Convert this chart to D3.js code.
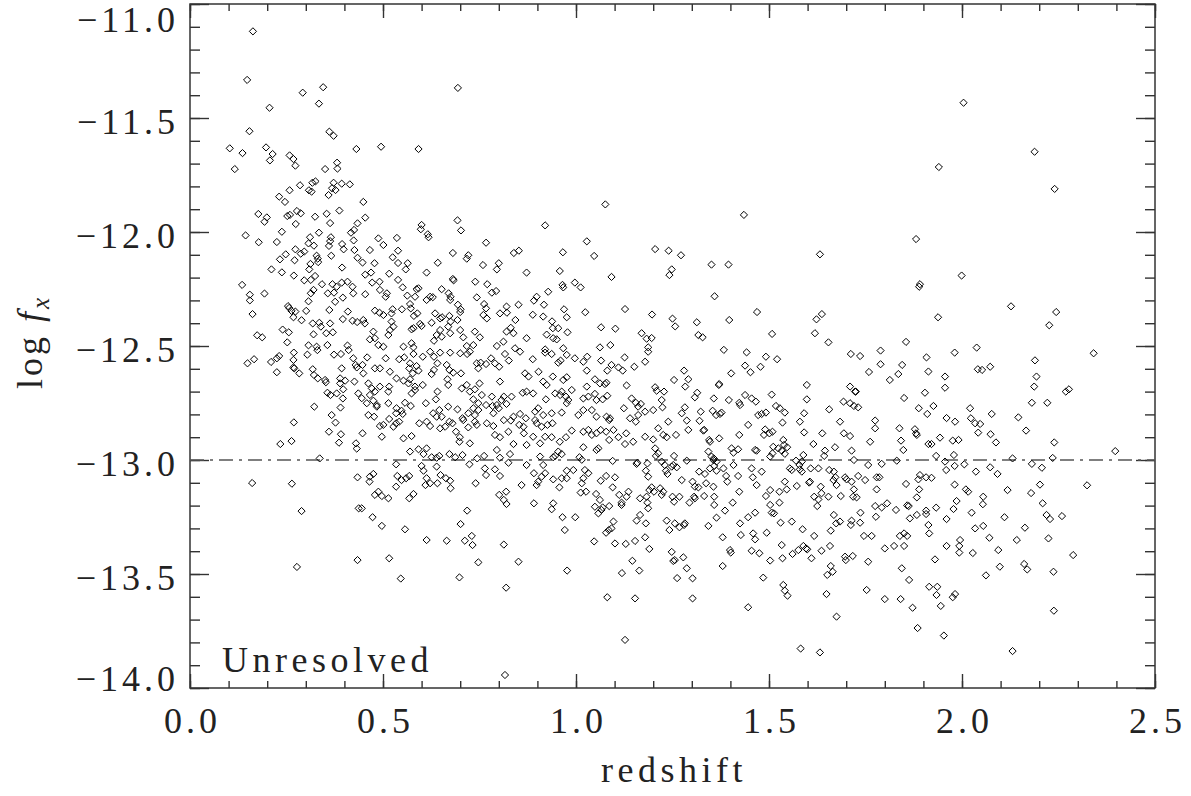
<!DOCTYPE html>
<html><head><meta charset="utf-8">
<script src="https://cdn.jsdelivr.net/npm/d3@7"></script>
<style>
html,body{margin:0;padding:0;background:#fff;}
svg{display:block;background:#fff;}
text{font-family:"Liberation Serif","DejaVu Serif",serif;fill:#222;}
</style></head><body>
<svg id="chart" width="1191" height="796"></svg>
<script>
const xTickValues = [0, 0.5, 1.0, 1.5, 2.0, 2.5];
const xTickLabels = ["0.0", "0.5", "1.0", "1.5", "2.0", "2.5"];
const yTickValues = [-14, -13.5, -13, -12.5, -12, -11.5, -11];
const yTickLabels = ["\u221214.0", "\u221213.5", "\u221213.0", "\u221212.5", "\u221212.0", "\u221211.5", "\u221211.0"];
const xTitle = "redshift";
const panelLabel = "Unresolved";
const referenceFlux = -13.0;

// [redshift, log f_x]
const sources = [
[0.163,-11.12],[0.148,-11.333],[0.345,-11.365],[0.292,-11.389],[0.334,-11.437],[0.206,-11.455],[0.154,-11.558],[0.361,-11.560],[0.372,-11.578],[0.103,-11.633],[0.136,-11.654],[0.197,-11.629],[0.214,-11.658],[0.207,-11.686],[0.258,-11.664],[0.268,-11.680],[0.273,-11.709],[0.431,-11.636],[0.495,-11.626],[0.116,-11.724],[0.350,-11.724],[0.381,-11.696],[0.382,-11.722],[0.285,-11.795],[0.317,-11.784],[0.325,-11.778],[0.308,-11.817],[0.315,-11.823],[0.372,-11.784],[0.393,-11.788],[0.414,-11.791],[0.368,-11.808],[0.377,-11.816],[0.359,-11.838],[0.258,-11.817],[0.231,-11.845],[0.246,-11.868],[0.449,-11.868],[0.177,-11.921],[0.199,-11.936],[0.193,-11.955],[0.252,-11.930],[0.259,-11.925],[0.277,-11.908],[0.287,-11.918],[0.274,-11.965],[0.324,-11.933],[0.354,-11.920],[0.363,-11.961],[0.387,-11.906],[0.454,-11.937],[0.434,-11.962],[0.425,-11.991],[0.417,-12.003],[0.238,-11.999],[0.334,-12.003],[0.144,-12.015],[0.311,-12.023],[0.365,-12.023],[0.488,-12.028],[0.536,-12.026],
[0.694,-11.368],[0.363,-12.040],[0.816,-13.943],[1.127,-13.789],
[0.178,-12.045],[0.225,-12.044],[0.273,-12.076],[0.248,-12.098],[0.233,-12.120],[0.271,-12.124],[0.287,-12.095],[0.296,-12.086],[0.307,-12.050],[0.321,-12.060],[0.328,-12.104],[0.331,-12.117],[0.312,-12.140],[0.332,-12.132],[0.360,-12.061],[0.366,-12.104],[0.394,-12.053],[0.398,-12.076],[0.424,-12.037],[0.426,-12.079],[0.434,-12.113],[0.211,-12.164],[0.238,-12.177],[0.269,-12.191],[0.309,-12.164],[0.296,-12.212],[0.313,-12.210],[0.324,-12.193],[0.342,-12.229],[0.369,-12.229],[0.380,-12.240],[0.393,-12.222],[0.408,-12.218],[0.394,-12.156],[0.421,-12.240],[0.135,-12.232],[0.155,-12.275],[0.155,-12.300],[0.193,-12.270],[0.254,-12.325],[0.307,-12.304],[0.313,-12.269],[0.320,-12.254],[0.357,-12.269],[0.373,-12.266],[0.376,-12.306],[0.396,-12.288],[0.423,-12.269],[0.162,-12.360],[0.257,-12.333],[0.263,-12.346],[0.273,-12.349],[0.268,-12.374],[0.289,-12.387],[0.301,-12.346],[0.318,-12.401],[0.335,-12.398],[0.339,-12.415],[0.363,-12.401],[0.361,-12.342],[0.396,-12.382],[0.409,-12.349],[0.421,-12.389],[0.433,-12.395],[0.240,-12.428],[0.256,-12.440],[0.320,-12.449],[0.353,-12.444],[0.370,-12.440],[0.174,-12.453],[0.187,-12.462],[0.252,-12.484],[0.307,-12.497],[0.328,-12.503],[0.356,-12.496],[0.408,-12.498],
[0.592,-11.636],[0.693,-11.949],[0.702,-11.993],[0.600,-11.969],[0.598,-11.988],[0.616,-12.010],[0.618,-12.023],[0.767,-12.047],[0.681,-12.092],[0.721,-12.102],[0.717,-12.117],[0.839,-12.092],[0.852,-12.082],[0.759,-12.145],[0.800,-12.137],[0.795,-12.164],[0.872,-12.178],[0.501,-12.057],[0.466,-12.079],[0.539,-12.082],[0.525,-12.111],[0.539,-12.136],[0.478,-12.137],[0.447,-12.134],[0.564,-12.137],[0.559,-12.164],[0.642,-12.135],[0.613,-12.178],[0.454,-12.187],[0.469,-12.178],[0.516,-12.183],[0.472,-12.222],[0.491,-12.218],[0.539,-12.210],[0.551,-12.243],[0.681,-12.206],[0.683,-12.212],[0.739,-12.218],[0.770,-12.229],[0.454,-12.273],[0.492,-12.254],[0.510,-12.269],[0.507,-12.284],[0.563,-12.279],[0.587,-12.251],[0.592,-12.247],[0.583,-12.284],[0.652,-12.251],[0.622,-12.284],[0.629,-12.286],[0.613,-12.298],[0.670,-12.269],[0.675,-12.284],[0.674,-12.298],[0.743,-12.287],[0.782,-12.266],[0.793,-12.259],[0.762,-12.316],[0.767,-12.335],[0.760,-12.364],[0.769,-12.379],[0.851,-12.319],[0.820,-12.327],[0.803,-12.357],[0.821,-12.354],[0.843,-12.386],[0.694,-12.319],[0.701,-12.339],[0.700,-12.351],[0.648,-12.379],[0.653,-12.374],[0.672,-12.368],[0.675,-12.393],[0.693,-12.386],[0.570,-12.316],[0.572,-12.335],[0.549,-12.339],[0.525,-12.339],[0.522,-12.357],[0.479,-12.345],[0.491,-12.354],[0.501,-12.364],[0.589,-12.357],[0.580,-12.368],[0.596,-12.403],[0.600,-12.412],[0.626,-12.398],[0.635,-12.357],[0.579,-12.422],[0.574,-12.427],[0.522,-12.393],[0.527,-12.415],[0.518,-12.430],[0.449,-12.386],[0.453,-12.401],[0.475,-12.437],[0.479,-12.466],[0.466,-12.471],[0.514,-12.452],[0.648,-12.430],[0.639,-12.452],[0.632,-12.477],[0.652,-12.459],[0.674,-12.444],[0.669,-12.415],[0.700,-12.430],[0.708,-12.462],[0.717,-12.500],[0.734,-12.496],[0.738,-12.437],[0.751,-12.462],[0.820,-12.437],[0.831,-12.420],[0.838,-12.444],[0.812,-12.481],[0.795,-12.500],[0.842,-12.510],[0.872,-12.466],[0.553,-12.503],[0.574,-12.488],[0.579,-12.506],[0.488,-12.496],[0.501,-12.503],
[1.076,-11.879],[0.920,-11.971],[1.028,-12.041],[0.966,-12.089],[1.047,-12.105],[1.205,-12.075],[1.240,-12.082],[1.272,-12.102],[1.248,-12.164],[1.242,-12.189],[0.958,-12.171],[1.092,-12.197],[0.965,-12.232],[0.967,-12.243],[0.997,-12.222],[1.012,-12.243],[0.928,-12.262],[0.898,-12.284],[0.891,-12.301],[0.917,-12.319],[0.888,-12.363],[0.915,-12.371],[0.969,-12.339],[0.976,-12.374],[1.024,-12.352],[1.127,-12.338],[1.197,-12.362],[1.250,-12.380],[1.257,-12.414],[1.313,-12.396],[1.317,-12.452],[0.938,-12.392],[0.940,-12.422],[0.954,-12.422],[0.978,-12.440],[0.924,-12.450],[0.941,-12.466],[0.950,-12.471],[1.065,-12.418],[1.102,-12.424],[1.170,-12.444],[1.183,-12.468],[1.196,-12.465],[1.062,-12.506],[1.089,-12.496],[0.967,-12.510],[0.920,-12.515],[1.187,-12.506],
[0.149,-12.576],[0.166,-12.558],[0.210,-12.570],[0.225,-12.554],[0.231,-12.544],[0.225,-12.615],[0.269,-12.529],[0.268,-12.561],[0.268,-12.594],[0.270,-12.598],[0.283,-12.620],[0.304,-12.538],[0.330,-12.518],[0.318,-12.602],[0.321,-12.627],[0.331,-12.642],[0.350,-12.649],[0.352,-12.659],[0.373,-12.538],[0.391,-12.535],[0.393,-12.598],[0.356,-12.705],[0.364,-12.715],[0.380,-12.708],[0.396,-12.730],[0.397,-12.690],[0.389,-12.642],[0.389,-12.664],[0.402,-12.652],[0.411,-12.518],[0.423,-12.554],[0.429,-12.583],[0.432,-12.594],[0.426,-12.656],[0.436,-12.708],[0.322,-12.766],[0.367,-12.803],[0.377,-12.836],[0.390,-12.770],[0.269,-12.835],[0.360,-12.876],[0.391,-12.887],[0.386,-12.924],[0.430,-12.927],[0.432,-12.950],[0.234,-12.930],[0.263,-12.917],[0.336,-12.993],[0.161,-13.101],[0.264,-13.104],[0.289,-13.224],[0.277,-13.469],[0.434,-13.076],[0.437,-13.212],[0.434,-13.439],
[0.459,-12.550],[0.507,-12.554],[0.542,-12.558],[0.555,-12.550],[0.579,-12.535],[0.603,-12.547],[0.622,-12.525],[0.632,-12.547],[0.648,-12.529],[0.674,-12.529],[0.700,-12.532],[0.718,-12.535],[0.725,-12.525],[0.743,-12.576],[0.753,-12.573],[0.767,-12.579],[0.780,-12.554],[0.790,-12.576],[0.801,-12.591],[0.826,-12.564],[0.816,-12.535],[0.855,-12.525],[0.447,-12.583],[0.449,-12.620],[0.479,-12.598],[0.492,-12.598],[0.518,-12.613],[0.570,-12.576],[0.587,-12.588],[0.592,-12.608],[0.568,-12.598],[0.626,-12.623],[0.632,-12.605],[0.641,-12.576],[0.665,-12.583],[0.672,-12.605],[0.682,-12.617],[0.702,-12.620],[0.747,-12.598],[0.868,-12.620],[0.877,-12.634],
[0.462,-12.664],[0.471,-12.686],[0.479,-12.700],[0.466,-12.715],[0.475,-12.740],[0.484,-12.759],[0.492,-12.678],[0.516,-12.678],[0.514,-12.700],[0.535,-12.642],[0.553,-12.652],[0.566,-12.664],[0.570,-12.646],[0.577,-12.620],[0.583,-12.678],[0.603,-12.671],[0.574,-12.708],[0.583,-12.693],[0.641,-12.700],[0.637,-12.734],[0.667,-12.646],[0.669,-12.671],[0.704,-12.686],[0.717,-12.671],[0.725,-12.700],[0.738,-12.690],[0.750,-12.664],[0.803,-12.656],[0.782,-12.722],[0.795,-12.759],[0.807,-12.737],[0.813,-12.722],[0.820,-12.754],[0.833,-12.722],[0.862,-12.705],[0.872,-12.700],[0.734,-12.734],[0.747,-12.751],[0.756,-12.715],
[0.445,-12.729],[0.458,-12.751],[0.462,-12.803],[0.477,-12.810],[0.484,-12.766],[0.514,-12.751],[0.535,-12.773],[0.548,-12.784],[0.551,-12.798],[0.534,-12.795],[0.557,-12.749],[0.572,-12.763],[0.611,-12.751],[0.630,-12.795],[0.646,-12.781],[0.652,-12.810],[0.639,-12.810],[0.669,-12.766],[0.693,-12.778],[0.706,-12.817],[0.721,-12.795],[0.734,-12.773],[0.738,-12.803],[0.747,-12.781],[0.767,-12.759],[0.784,-12.763],[0.786,-12.795],[0.800,-12.773],[0.838,-12.810],[0.855,-12.798],[0.870,-12.817],
[0.492,-12.851],[0.501,-12.846],[0.516,-12.820],[0.527,-12.854],[0.534,-12.839],[0.542,-12.832],[0.447,-12.883],[0.497,-12.898],[0.553,-12.905],[0.574,-12.895],[0.594,-12.839],[0.613,-12.832],[0.622,-12.851],[0.648,-12.861],[0.661,-12.854],[0.672,-12.832],[0.680,-12.839],[0.689,-12.876],[0.699,-12.900],[0.698,-12.920],[0.708,-12.825],[0.721,-12.857],[0.738,-12.832],[0.743,-12.846],[0.725,-12.927],[0.769,-12.839],[0.786,-12.851],[0.813,-12.825],[0.831,-12.827],[0.790,-12.890],[0.803,-12.900],[0.825,-12.876],[0.838,-12.930],[0.853,-12.846],[0.864,-12.854],[0.865,-12.883],[0.872,-12.934],
[0.570,-12.963],[0.592,-12.953],[0.613,-12.949],[0.605,-12.974],[0.626,-12.988],[0.646,-12.982],[0.639,-12.990],[0.672,-12.974],[0.687,-12.988],[0.706,-12.978],[0.744,-12.993],[0.762,-12.982],[0.795,-12.956],[0.803,-12.990],[0.829,-12.974],
[0.534,-13.019],[0.600,-13.026],[0.605,-13.047],[0.639,-13.029],[0.724,-13.019],[0.764,-13.037],[0.767,-13.066],[0.790,-13.041],[0.803,-13.070],[0.825,-13.012],[0.872,-13.022],[0.466,-13.073],[0.475,-13.061],[0.465,-13.095],[0.537,-13.070],[0.548,-13.088],[0.568,-13.070],[0.560,-13.080],[0.613,-13.080],[0.622,-13.102],[0.641,-13.102],[0.610,-13.110],[0.649,-13.066],[0.663,-13.080],[0.674,-13.091],[0.675,-13.124],[0.740,-13.102],[0.859,-13.110],[0.534,-13.117],
[0.479,-13.153],[0.497,-13.158],[0.514,-13.168],[0.488,-13.139],[0.568,-13.168],[0.579,-13.149],[0.801,-13.153],[0.819,-13.139],[0.813,-13.175],[0.820,-13.193],[0.445,-13.212],[0.718,-13.222],
[0.473,-13.251],[0.497,-13.289],[0.557,-13.304],[0.701,-13.281],[0.613,-13.351],[0.665,-13.354],[0.712,-13.354],[0.730,-13.333],[0.732,-13.373],[0.813,-13.371],[0.516,-13.431],[0.747,-13.449],[0.851,-13.446],[0.546,-13.520],[0.698,-13.515],[0.819,-13.560],
[0.888,-12.558],[0.920,-12.529],[0.937,-12.535],[0.954,-12.573],[0.960,-12.564],[0.976,-12.539],[0.997,-12.554],[1.019,-12.569],[1.029,-12.547],[1.065,-12.564],[1.092,-12.583],[1.110,-12.594],[1.121,-12.608],[1.126,-12.550],[1.151,-12.591],[1.179,-12.569],[1.187,-12.525],
[0.903,-12.613],[0.915,-12.656],[0.924,-12.671],[0.940,-12.634],[0.967,-12.649],[0.976,-12.637],[1.028,-12.608],[1.081,-12.608],[1.049,-12.646],[1.062,-12.664],[1.075,-12.667],[1.079,-12.661],[1.028,-12.678],[1.131,-12.673],[1.254,-12.649],[1.280,-12.608],[1.291,-12.646],[1.283,-12.678],[1.205,-12.681],[1.209,-12.696],[1.228,-12.700],
[0.889,-12.708],[0.902,-12.773],[0.894,-12.788],[0.922,-12.734],[0.915,-12.803],[0.894,-12.825],[0.946,-12.708],[0.959,-12.715],[0.963,-12.700],[0.974,-12.722],[0.989,-12.693],[0.976,-12.751],[0.980,-12.737],[1.019,-12.730],[1.032,-12.722],[1.049,-12.710],[1.053,-12.737],[1.069,-12.734],[1.081,-12.718],[0.937,-12.795],[0.963,-12.792],[1.006,-12.803],[1.019,-12.781],[1.041,-12.781],[1.053,-12.810],[1.079,-12.810],[1.088,-12.817],[1.086,-12.825],[1.124,-12.773],[1.144,-12.730],[1.155,-12.749],[1.161,-12.766],[1.168,-12.754],[1.179,-12.788],[1.140,-12.817],[1.161,-12.803],[1.155,-12.832],[1.200,-12.781],[1.224,-12.769],[1.222,-12.737],[1.274,-12.795],[1.282,-12.769],[1.287,-12.827],[1.291,-12.868],[1.239,-12.832],[1.213,-12.861],[1.226,-12.890],[1.235,-12.900],
[0.898,-12.839],[0.911,-12.854],[0.926,-12.846],[0.939,-12.839],[0.889,-12.898],[0.907,-12.927],[0.920,-12.898],[0.937,-12.900],[0.958,-12.920],[0.974,-12.900],[0.989,-12.871],[1.019,-12.876],[1.032,-12.868],[1.041,-12.890],[1.053,-12.883],[1.064,-12.868],[1.078,-12.876],[1.097,-12.868],[1.086,-12.912],[1.058,-12.949],[1.053,-12.956],[1.110,-12.900],[1.130,-12.883],[1.127,-12.930],[1.148,-12.920],[1.179,-12.898],[1.200,-12.910],[1.205,-12.949],[1.259,-12.890],[1.019,-12.944],[0.963,-12.974],[0.954,-12.963],[0.907,-12.985],[0.941,-12.988],[0.946,-12.982],
[1.009,-12.988],[1.015,-12.999],[1.095,-13.004],[1.157,-13.017],[1.159,-13.012],[1.185,-13.015],[1.207,-12.982],[1.213,-12.971],[1.222,-13.007],[1.230,-13.022],[1.252,-13.022],[1.261,-13.032],[1.287,-13.003],[1.254,-12.982],[0.915,-13.022],[0.920,-13.058],[0.911,-13.073],[0.891,-13.058],[0.941,-13.085],[0.963,-13.080],[0.976,-13.080],[0.976,-13.047],[0.993,-13.044],[1.023,-13.044],[1.032,-13.058],[1.019,-13.080],[1.015,-13.102],[1.012,-13.143],[0.898,-13.110],[0.902,-13.095],[0.957,-13.120],[1.064,-13.091],[1.078,-13.070],[1.101,-13.076],[1.095,-13.120],[1.187,-13.073],[1.181,-13.047],[1.233,-13.047],[1.237,-13.061],[1.248,-13.029],[1.274,-13.088],
[1.026,-13.139],[1.052,-13.149],[1.062,-13.175],[1.069,-13.208],[1.086,-13.202],[1.049,-13.205],[1.112,-13.153],[1.118,-13.187],[1.118,-13.197],[1.136,-13.139],[1.131,-13.161],[1.166,-13.168],[1.183,-13.161],[1.190,-13.132],[1.196,-13.120],[1.202,-13.139],[1.218,-13.124],[1.226,-13.139],[1.222,-13.153],[1.185,-13.187],[1.187,-13.212],[1.250,-13.161],[1.254,-13.183],[1.268,-13.161],[1.294,-13.187],[0.891,-13.190],[0.941,-13.190],[0.937,-13.216],
[0.965,-13.251],[0.998,-13.251],[0.971,-13.307],[1.058,-13.234],[1.066,-13.219],[1.097,-13.270],[1.092,-13.300],[1.078,-13.319],[1.085,-13.307],[1.166,-13.241],[1.157,-13.266],[1.181,-13.278],[1.235,-13.266],[1.242,-13.307],[1.256,-13.278],[1.268,-13.295],[1.282,-13.278],[1.280,-13.285],
[1.047,-13.357],[1.101,-13.366],[1.129,-13.368],[1.153,-13.355],[1.179,-13.339],[1.190,-13.390],[1.248,-13.403],[1.252,-13.443],[1.256,-13.439],[1.278,-13.427],[1.146,-13.442],[1.164,-13.485],[1.119,-13.496],[0.977,-13.485],[1.287,-13.475],[1.262,-13.518],[1.081,-13.602],[1.153,-13.607],
[1.435,-11.925],[1.881,-12.031],[1.632,-12.098],[1.351,-12.143],[1.395,-12.143],[1.359,-12.282],[1.891,-12.229],[1.889,-12.240],[1.469,-12.351],[1.623,-12.383],[1.637,-12.360],[1.397,-12.386],[1.328,-12.462],[1.508,-12.447],[1.619,-12.444],[1.654,-12.484],[1.855,-12.482],[1.383,-12.517],[1.442,-12.528],[1.492,-12.547],[1.521,-12.558],[1.712,-12.535],[1.736,-12.544],[1.789,-12.520],[1.789,-12.580],[1.908,-12.550],[1.438,-12.586],[1.452,-12.615],[1.478,-12.591],[1.402,-12.620],[1.759,-12.614],[1.845,-12.583],[1.835,-12.623],[1.813,-12.649],[1.913,-12.612],[1.371,-12.667],[1.370,-12.671],[1.598,-12.671],[1.710,-12.678],[1.725,-12.700],
[1.308,-12.725],[1.314,-12.705],[1.357,-12.730],[1.396,-12.737],[1.425,-12.759],[1.423,-12.749],[1.438,-12.715],[1.455,-12.730],[1.466,-12.744],[1.507,-12.713],[1.518,-12.763],[1.528,-12.773],[1.541,-12.792],[1.598,-12.734],[1.656,-12.778],[1.693,-12.744],[1.710,-12.751],[1.720,-12.763],[1.731,-12.769],[1.723,-12.700],[1.850,-12.728],[1.888,-12.773],[1.904,-12.705],[1.910,-12.798],
[1.323,-12.788],[1.320,-12.828],[1.354,-12.784],[1.363,-12.803],[1.377,-12.792],[1.373,-12.798],[1.472,-12.803],[1.481,-12.798],[1.492,-12.792],[1.330,-12.871],[1.332,-12.868],[1.345,-12.912],[1.347,-12.920],[1.371,-12.905],[1.423,-12.890],[1.446,-12.846],[1.490,-12.866],[1.501,-12.883],[1.487,-12.890],[1.509,-12.876],[1.535,-12.836],[1.537,-12.912],[1.580,-12.832],[1.591,-12.795],[1.591,-12.879],[1.638,-12.883],[1.684,-12.832],[1.694,-12.883],[1.710,-12.895],[1.775,-12.827],[1.775,-12.861],[1.762,-12.920],[1.838,-12.861],[1.842,-12.915],[1.848,-12.956],[1.878,-12.865],[1.881,-12.883],[1.883,-12.890],[1.913,-12.930],
[1.343,-12.963],[1.351,-12.985],[1.357,-12.993],[1.364,-13.007],[1.403,-12.949],[1.420,-12.953],[1.408,-12.968],[1.464,-12.956],[1.468,-12.959],[1.503,-12.985],[1.509,-12.971],[1.511,-12.942],[1.524,-12.949],[1.533,-12.959],[1.539,-12.934],[1.547,-12.944],[1.541,-12.973],[1.589,-12.978],[1.585,-13.007],[1.570,-13.003],[1.579,-13.022],[1.615,-12.930],[1.645,-12.959],[1.643,-12.982],[1.671,-12.944],[1.714,-12.959],[1.720,-13.000],[1.831,-13.003],
[1.319,-13.051],[1.334,-13.061],[1.347,-13.037],[1.358,-13.026],[1.364,-13.047],[1.356,-13.000],[1.382,-13.037],[1.389,-13.070],[1.392,-13.095],[1.408,-13.022],[1.420,-13.070],[1.455,-13.037],[1.458,-13.076],[1.481,-13.051],[1.468,-13.110],[1.554,-13.037],[1.559,-13.044],[1.580,-13.041],[1.585,-13.051],[1.608,-13.037],[1.628,-13.037],[1.606,-13.095],[1.604,-13.099],[1.572,-13.114],[1.541,-13.095],[1.656,-13.044],[1.668,-13.051],[1.672,-13.076],[1.667,-13.088],[1.675,-13.110],[1.697,-13.076],[1.701,-13.085],[1.714,-13.095],[1.731,-13.070],[1.749,-13.088],[1.757,-13.022],[1.779,-13.076],[1.786,-13.076],[1.792,-13.017],[1.855,-13.105],[1.891,-13.066],[1.907,-13.076],[1.887,-13.085],
[1.302,-13.095],[1.308,-13.117],[1.317,-13.120],[1.306,-13.161],[1.308,-13.168],[1.332,-13.158],[1.356,-13.117],[1.358,-13.161],[1.358,-13.197],[1.337,-13.102],[1.406,-13.187],[1.423,-13.139],[1.492,-13.158],[1.503,-13.132],[1.527,-13.139],[1.527,-13.187],[1.546,-13.129],[1.634,-13.117],[1.636,-13.146],[1.617,-13.161],[1.628,-13.173],[1.654,-13.161],[1.625,-13.202],[1.686,-13.158],[1.720,-13.129],[1.727,-13.164],[1.718,-13.161],[1.779,-13.129],[1.775,-13.202],[1.792,-13.208],[1.806,-13.190],[1.858,-13.199],[1.862,-13.202],[1.883,-13.164],[1.889,-13.129],
[1.386,-13.222],[1.364,-13.253],[1.343,-13.289],[1.425,-13.278],[1.446,-13.251],[1.464,-13.231],[1.503,-13.197],[1.507,-13.231],[1.513,-13.234],[1.530,-13.275],[1.559,-13.270],[1.587,-13.304],[1.617,-13.333],[1.660,-13.310],[1.668,-13.241],[1.674,-13.278],[1.684,-13.270],[1.712,-13.285],[1.714,-13.266],[1.736,-13.275],[1.737,-13.231],[1.777,-13.249],[1.829,-13.219],[1.865,-13.256],[1.883,-13.241],[1.907,-13.222],[1.913,-13.285],
[1.380,-13.339],[1.427,-13.329],[1.459,-13.322],[1.464,-13.348],[1.455,-13.398],[1.494,-13.319],[1.399,-13.395],[1.401,-13.406],[1.475,-13.409],[1.533,-13.373],[1.535,-13.431],[1.561,-13.412],[1.576,-13.395],[1.589,-13.377],[1.596,-13.388],[1.599,-13.392],[1.610,-13.431],[1.636,-13.398],[1.658,-13.377],[1.503,-13.441],[1.697,-13.424],[1.699,-13.439],[1.717,-13.421],[1.746,-13.333],[1.766,-13.333],[1.757,-13.446],[1.800,-13.388],[1.824,-13.377],[1.839,-13.333],[1.850,-13.322],[1.858,-13.333],[1.850,-13.377],[1.844,-13.475],[1.915,-13.322],
[1.380,-13.465],[1.302,-13.519],[1.302,-13.607],[1.485,-13.516],[1.537,-13.548],[1.541,-13.573],[1.548,-13.595],[1.446,-13.646],[1.660,-13.465],[1.665,-13.490],[1.651,-13.504],[1.649,-13.588],[1.675,-13.687],[1.753,-13.570],[1.800,-13.610],[1.841,-13.610],[1.863,-13.526],[1.872,-13.648],[1.885,-13.737],[1.582,-13.827],[1.632,-13.844],[1.915,-13.556],
[2.004,-11.433],[2.188,-11.648],[1.940,-11.715],[2.240,-11.811],[1.999,-12.191],[2.127,-12.326],[2.244,-12.351],[2.226,-12.409],[1.938,-12.374],[2.038,-12.507],[1.981,-12.529],[2.341,-12.532],[2.189,-12.563],[1.956,-12.634],[1.956,-12.683],[2.041,-12.602],[2.052,-12.605],[2.073,-12.591],[2.193,-12.634],[2.187,-12.678],[2.269,-12.700],[2.277,-12.690],
[1.926,-12.763],[1.960,-12.816],[1.982,-12.832],[2.021,-12.773],[2.023,-12.817],[2.034,-12.839],[2.047,-12.842],[2.042,-12.880],[2.077,-12.798],[2.074,-12.887],[2.088,-12.923],[2.146,-12.813],[2.166,-12.871],[2.181,-12.749],[2.221,-12.749],[2.239,-12.923],[2.397,-12.961],[1.921,-12.930],[1.943,-12.902],[1.976,-12.915],[1.991,-12.912],[1.979,-12.978],[1.933,-12.982],[2.131,-12.993],[2.235,-12.991],[1.956,-13.007],[1.959,-13.044],[1.981,-13.026],[2.006,-13.019],[2.036,-13.051],[2.073,-13.032],[2.092,-13.061],[2.181,-13.017],[2.207,-13.034],[1.921,-13.078],[1.981,-13.108],[2.010,-13.129],[2.016,-13.139],[2.118,-13.132],[2.202,-13.108],[2.179,-13.145],[2.324,-13.111],[2.055,-13.161],[2.054,-13.194],[1.986,-13.180],[2.209,-13.190],[1.907,-13.237],[1.933,-13.209],[1.978,-13.215],[1.960,-13.259],[2.025,-13.231],[2.110,-13.251],[2.219,-13.241],[2.228,-13.259],[2.259,-13.246],[2.034,-13.300],[2.055,-13.289],[2.071,-13.341],[2.163,-13.297],[2.142,-13.351],[2.224,-13.344],[1.995,-13.351],[1.993,-13.377],[1.993,-13.406],[1.960,-13.377],[2.028,-13.408],[2.094,-13.395],[1.930,-13.436],[2.098,-13.468],[2.161,-13.456],[2.169,-13.480],[2.062,-13.506],[2.237,-13.490],[2.288,-13.417],[1.936,-13.556],[1.934,-13.592],[1.945,-13.640],[1.976,-13.602],[1.982,-13.588],[2.238,-13.661],[1.953,-13.770],[2.131,-13.838]
];

const svg = d3.select("#chart");
const x = d3.scaleLinear().domain([0, 2.5]).range([190, 1155]);
const y = d3.scaleLinear().domain([-14, -11]).range([688, 4]);

const xMinor = d3.range(0, 26).map(i => i / 10);
const yMinor = d3.range(0, 31).map(i => -14 + i / 10);

function styleAxis(g) {
  g.select(".domain").remove();
  g.selectAll(".tick line").attr("stroke", "#333").attr("stroke-width", 1.4);
  g.attr("font-family", null).attr("font-size", null);
}

// minor ticks
svg.append("g").attr("transform", "translate(190,0)")
  .call(d3.axisLeft(y).tickValues(yMinor).tickSize(-10).tickFormat("")).call(styleAxis);
svg.append("g").attr("transform", "translate(1155,0)")
  .call(d3.axisRight(y).tickValues(yMinor).tickSize(-10).tickFormat("")).call(styleAxis);
svg.append("g").attr("transform", "translate(0,688)")
  .call(d3.axisBottom(x).tickValues(xMinor).tickSize(-7).tickFormat("")).call(styleAxis);
svg.append("g").attr("transform", "translate(0,4)")
  .call(d3.axisTop(x).tickValues(xMinor).tickSize(-7).tickFormat("")).call(styleAxis);

// major ticks
const yAxisG = svg.append("g").attr("transform", "translate(190,0)")
  .call(d3.axisLeft(y).tickValues(yTickValues).tickSize(-19).tickPadding(11)
    .tickFormat((d, i) => yTickLabels[i])).call(styleAxis);
yAxisG.selectAll("text")
  .attr("font-size", "36px").attr("letter-spacing", "4px").attr("fill", "#222")
  .attr("dy", d => d === -14 ? "2px" : (d === -11 ? "27px" : "15px"));

svg.append("g").attr("transform", "translate(1155,0)")
  .call(d3.axisRight(y).tickValues(yTickValues).tickSize(-19).tickFormat("")).call(styleAxis);

const xAxisG = svg.append("g").attr("transform", "translate(0,688)")
  .call(d3.axisBottom(x).tickValues(xTickValues).tickSize(-14).tickPadding(19)
    .tickFormat((d, i) => xTickLabels[i])).call(styleAxis);
xAxisG.selectAll("text")
  .attr("font-size", "36px").attr("letter-spacing", "4px").attr("fill", "#222")
  .attr("dx", "2px");

svg.append("g").attr("transform", "translate(0,4)")
  .call(d3.axisTop(x).tickValues(xTickValues).tickSize(-14).tickFormat("")).call(styleAxis);

// frame
svg.append("rect")
  .attr("x", x(0)).attr("y", y(-11))
  .attr("width", x(2.5) - x(0)).attr("height", y(-14) - y(-11))
  .attr("fill", "none").attr("stroke", "#333").attr("stroke-width", 1.5);

// reference line
svg.append("line")
  .attr("x1", x(0)).attr("x2", x(2.5))
  .attr("y1", y(referenceFlux)).attr("y2", y(referenceFlux))
  .attr("stroke", "#555").attr("stroke-width", 1.4)
  .attr("stroke-dasharray", "14,6,3,6");

// points
svg.append("g").selectAll("path").data(sources).join("path")
  .attr("transform", d => `translate(${x(d[0])},${y(d[1])})`)
  .attr("d", "M0,-3.6L3.6,0L0,3.6L-3.6,0Z")
  .attr("fill", "none").attr("stroke", "#000").attr("stroke-width", 1);

// labels
svg.append("text").attr("x", 674).attr("y", 782)
  .attr("text-anchor", "middle").attr("font-size", "36px").attr("letter-spacing", "4.5px")
  .text(xTitle);

svg.append("text").attr("x", 222).attr("y", 672)
  .attr("font-size", "36px").attr("letter-spacing", "4.5px")
  .text(panelLabel);

const yl = svg.append("text")
  .attr("transform", "translate(42,342) rotate(-90)")
  .attr("text-anchor", "middle").attr("font-size", "36px").attr("letter-spacing", "3px");
yl.append("tspan").text("log ");
yl.append("tspan").attr("font-style", "italic").text("f");
yl.append("tspan").attr("font-style", "italic").attr("font-size", "25px").attr("dy", "7").text("x");
</script>
</body></html>
